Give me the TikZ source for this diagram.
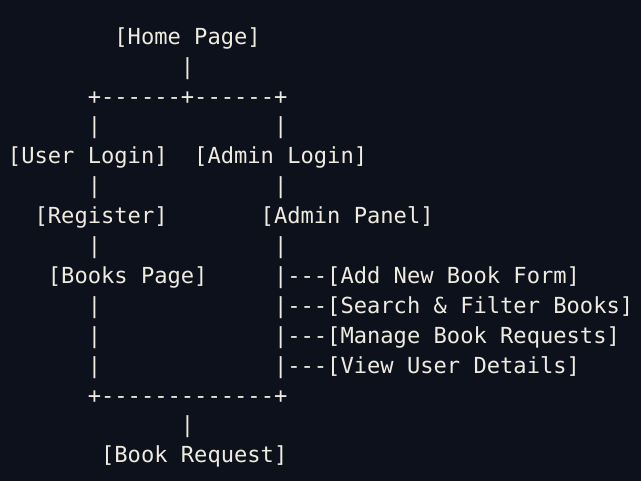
\documentclass[tikz,border=0pt]{standalone}
\usepackage{fontspec}
\setmonofont{DejaVu Sans Mono}
\definecolor{bgc}{HTML}{0D111B}
\definecolor{fgc}{HTML}{EFEBE1}
\newcommand\asc[4]{\node[asciitxt] (#1) at ({8+#2*13.3},{44.3+#3*29.9}) {#4};}
\tikzset{asciitxt/.style={anchor=base west, inner sep=0pt, outer sep=0pt, text=fgc,
  font=\ttfamily\fontsize{22.1}{26}\selectfont}}
\begin{document}
\begin{tikzpicture}[x=1pt,y=-1pt]
\fill[bgc] (0,0) rectangle (641,481);
\useasboundingbox (0,0) rectangle (641,481);
\asc{home}{8}{0}{[Home Page]}
\asc{v1}{13}{1}{|}
\asc{split}{6}{2}{+------+------+}
\asc{v3a}{6}{3}{|}
\asc{v3b}{20}{3}{|}
\asc{user}{0}{4}{[User Login]}
\asc{admin}{14}{4}{[Admin Login]}
\asc{v5a}{6}{5}{|}
\asc{v5b}{20}{5}{|}
\asc{reg}{2}{6}{[Register]}
\asc{panel}{19}{6}{[Admin Panel]}
\asc{v7a}{6}{7}{|}
\asc{v7b}{20}{7}{|}
\asc{books}{3}{8}{[Books Page]}
\asc{add}{20}{8}{|---[Add New Book Form]}
\asc{v9a}{6}{9}{|}
\asc{search}{20}{9}{|---[Search \& Filter Books]}
\asc{v10a}{6}{10}{|}
\asc{manage}{20}{10}{|---[Manage Book Requests]}
\asc{v11a}{6}{11}{|}
\asc{view}{20}{11}{|---[View User Details]}
\asc{join}{6}{12}{+-------------+}
\asc{v13}{13}{13}{|}
\asc{req}{7}{14}{[Book Request]}
\end{tikzpicture}
\end{document}
